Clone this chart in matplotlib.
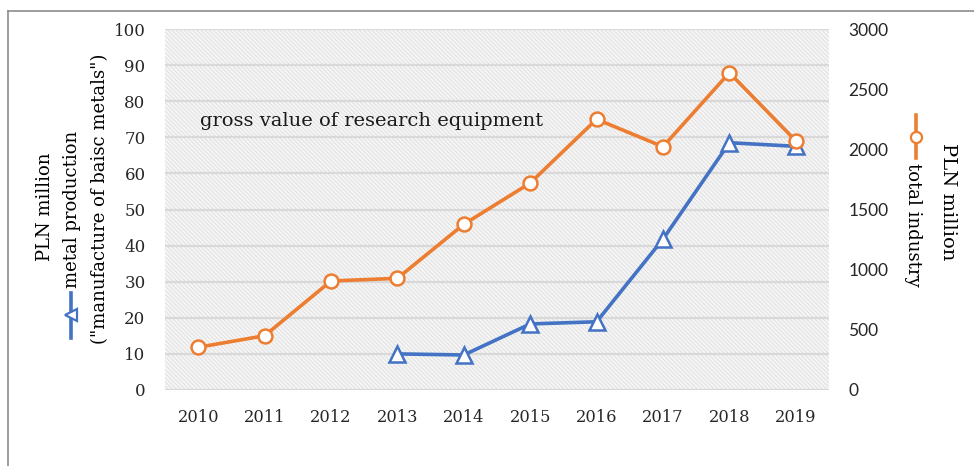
import matplotlib.pyplot as plt
from matplotlib.patches import Rectangle
from matplotlib.lines import Line2D
import numpy as np

# dados
anos = ['2010', '2011', '2012', '2013', '2014', '2015', '2016', '2017', '2018', '2019']
metal = [np.nan, np.nan, np.nan, 10.0, 9.7, 18.3, 18.9, 41.8, 68.5, 67.5]
total = [355, 451, 906, 928, 1377, 1720, 2250, 2022, 2637, 2070]

cor_azul = '#4472C4'
cor_laranja = '#ED7D31'
serif = ['DejaVu Serif']
sans = ['Lato', 'DejaVu Sans']

plt.rcParams['hatch.linewidth'] = 0.5
plt.rcParams['hatch.color'] = '#dadada'

fig = plt.figure(figsize=(9.74, 4.66), dpi=100)
ax1 = fig.add_axes([165 / 974, 1 - 390 / 466, 664 / 974, 361 / 466])
ax2 = ax1.twinx()

x = np.arange(len(anos))

# fundo hachurado
ax1.set_facecolor('#f5f5f5')
ax1.add_patch(Rectangle((0, 0), 1, 1, transform=ax1.transAxes, facecolor='none',
                        edgecolor='#dadada', hatch='\\' * 8, linewidth=0, zorder=0))
ax1.set_axisbelow(True)
ax1.grid(axis='y', color='#d9d9d9', linewidth=1.6)

ax1.plot(x, metal, color=cor_azul, linewidth=2.6, marker='^', markersize=11,
         markerfacecolor='white', markeredgecolor=cor_azul, markeredgewidth=1.8, zorder=3)
ax2.plot(x, total, color=cor_laranja, linewidth=2.6, marker='o', markersize=10,
         markerfacecolor='white', markeredgecolor=cor_laranja, markeredgewidth=1.8, zorder=3)

ax1.set_xlim(-0.5, 9.5)
ax1.set_ylim(0, 100)
ax2.set_ylim(0, 3000)
ax1.set_yticks(range(0, 101, 10))
ax2.set_yticks(range(0, 3001, 500))
ax1.set_xticks(x)
ax1.set_xticklabels(anos)

for ax in (ax1, ax2):
    for s in ax.spines.values():
        s.set_visible(False)
    ax.tick_params(length=0)

ax1.tick_params(axis='y', pad=14)
ax1.tick_params(axis='x', pad=14)
ax2.tick_params(axis='y', pad=14)
for lbl in ax1.get_yticklabels():
    lbl.set_fontfamily(serif)
    lbl.set_fontsize(12)
    lbl.set_color('#262626')
for lbl in ax1.get_xticklabels():
    lbl.set_fontfamily(serif)
    lbl.set_fontsize(11.7)
    lbl.set_color('#262626')
for lbl in ax2.get_yticklabels():
    lbl.set_fontfamily(sans)
    lbl.set_fontsize(12.5)
    lbl.set_color('#262626')

ax1.text(0.052, 0.745, 'gross value of research equipment', transform=ax1.transAxes,
         fontsize=14, family=serif, color='#1a1a1a', va='center', ha='left')

# títulos dos eixos (esquerda)
fig.text(45 / 974, 1 - 207 / 466, 'PLN million', rotation=90, ha='center', va='center',
         fontsize=13, family=serif)
fig.text(72 / 974, 1 - 288 / 466, 'metal production', rotation=90, ha='center', va='bottom',
         fontsize=13, family=serif)
fig.text(100 / 974, 1 - 199 / 466, '("manufacture of baisc metals")', rotation=90,
         ha='center', va='center', fontsize=13, family=serif)
fig.add_artist(Line2D([71 / 974, 71 / 974], [1 - 293 / 466, 1 - 338 / 466],
                      color=cor_azul, linewidth=2.6))
fig.add_artist(Line2D([71 / 974], [1 - 315 / 466], marker='<', markersize=9,
                      markerfacecolor='white', markeredgecolor=cor_azul, markeredgewidth=1.6))

# títulos dos eixos (direita)
fig.text(948 / 974, 1 - 202 / 466, 'PLN million', rotation=-90, ha='center', va='center',
         fontsize=14, family=serif)
fig.text(913 / 974, 1 - 163 / 466, 'total industry', rotation=-90, ha='center', va='top',
         fontsize=13, family=serif)
fig.add_artist(Line2D([916 / 974, 916 / 974], [1 - 115 / 466, 1 - 158 / 466],
                      color=cor_laranja, linewidth=2.6))
fig.add_artist(Line2D([916 / 974], [1 - 137 / 466], marker='o', markersize=8,
                      markerfacecolor='white', markeredgecolor=cor_laranja, markeredgewidth=1.6))

# moldura
fig.add_artist(Line2D([8 / 974, 1], [1 - 11 / 466, 1 - 11 / 466], color='#8c8c8c', linewidth=1.2))
fig.add_artist(Line2D([8 / 974, 8 / 974], [1 - 11 / 466, 0], color='#8c8c8c', linewidth=1.2))

fig.savefig('out.png', dpi=100)
